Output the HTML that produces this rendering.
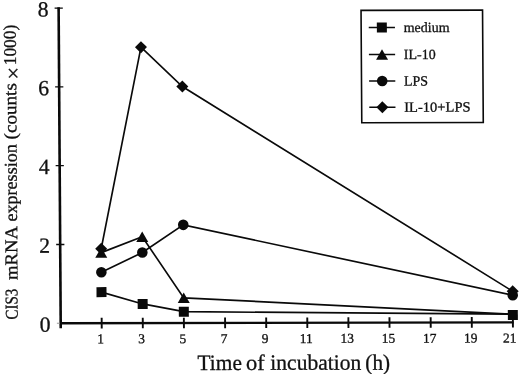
<!DOCTYPE html>
<html><head><meta charset="utf-8"><title>CIS3 mRNA expression</title>
<style>
html,body{margin:0;padding:0;background:#fff;}
svg{display:block;}
text{font-family:"Liberation Serif","DejaVu Serif",serif;fill:#111;stroke:#111;stroke-width:0.3px;}
</style></head><body>
<svg width="520" height="374" viewBox="0 0 520 374">
<rect width="520" height="374" fill="#fff"/>
<g transform="matrix(1 -0.002 0.0066 1 -2.134 0.121)" fill="#0a0a0a" stroke="none">
<g stroke="#0a0a0a" fill="none"><line x1="60.7" y1="7.2" x2="60.7" y2="328.3" stroke-width="2.6"/><line x1="60.7" y1="323.3" x2="513.6" y2="323.3" stroke-width="2.4"/></g>
<g stroke="#0a0a0a" stroke-width="1.3"><line x1="56.7" y1="244.5" x2="64.9" y2="244.5"/><line x1="56.7" y1="165.7" x2="64.9" y2="165.7"/><line x1="56.7" y1="86.9" x2="64.9" y2="86.9"/><line x1="56.7" y1="8.1" x2="64.9" y2="8.1"/></g>
<g stroke="#0a0a0a" stroke-width="1.9"><line x1="101.7" y1="317.9" x2="101.7" y2="328.5"/><line x1="142.8" y1="317.9" x2="142.8" y2="328.5"/><line x1="183.9" y1="317.9" x2="183.9" y2="328.5"/><line x1="225.1" y1="317.9" x2="225.1" y2="328.5"/><line x1="266.2" y1="317.9" x2="266.2" y2="328.5"/><line x1="307.3" y1="317.9" x2="307.3" y2="328.5"/><line x1="348.4" y1="317.9" x2="348.4" y2="328.5"/><line x1="389.5" y1="317.9" x2="389.5" y2="328.5"/><line x1="430.7" y1="317.9" x2="430.7" y2="328.5"/><line x1="471.8" y1="317.9" x2="471.8" y2="328.5"/><line x1="512.9" y1="317.9" x2="512.9" y2="328.5"/></g>
<line x1="56.9" y1="323.3" x2="59.7" y2="323.3" stroke="#999" stroke-width="1"/>
<polyline points="101.7,292.2 142.8,304.1 183.9,311.9 512.9,315.1" fill="none" stroke="#0a0a0a" stroke-width="1.65"/>
<polyline points="101.7,252.7 142.8,236.9 183.9,298.1 512.9,315.1" fill="none" stroke="#0a0a0a" stroke-width="1.65"/>
<polyline points="101.7,272.4 142.8,252.7 183.9,225.1 512.9,296.2" fill="none" stroke="#0a0a0a" stroke-width="1.65"/>
<polyline points="101.7,248.8 142.8,47.3 183.9,86.8 512.9,292.2" fill="none" stroke="#0a0a0a" stroke-width="1.65"/>
<rect x="96.7" y="287.2" width="10" height="10"/><rect x="137.8" y="299.1" width="10" height="10"/><rect x="178.9" y="306.9" width="10" height="10"/><rect x="507.9" y="310.9" width="10" height="10"/>
<polygon points="101.7,247.4 107.7,257.9 95.7,257.9"/><polygon points="142.8,231.6 148.8,242.1 136.8,242.1"/><polygon points="183.9,292.8 189.9,303.3 177.9,303.3"/>
<circle cx="101.7" cy="272.4" r="5.3"/><circle cx="142.8" cy="252.7" r="5.3"/><circle cx="183.9" cy="225.1" r="5.3"/><circle cx="512.9" cy="296.2" r="5.3"/>
<polygon points="101.7,242.8 107.7,248.8 101.7,254.8 95.7,248.8"/><polygon points="142.8,41.3 148.8,47.3 142.8,53.3 136.8,47.3"/><polygon points="183.9,80.8 189.9,86.8 183.9,92.8 177.9,86.8"/><polygon points="512.9,286.2 518.9,292.2 512.9,298.2 506.9,292.2"/>
<text x="50.5" y="331.6" font-size="21.7" text-anchor="end">0</text>
<text x="50.5" y="252.8" font-size="21.7" text-anchor="end">2</text>
<text x="50.5" y="174.0" font-size="21.7" text-anchor="end">4</text>
<text x="50.5" y="95.2" font-size="21.7" text-anchor="end">6</text>
<text x="50.5" y="16.4" font-size="21.7" text-anchor="end">8</text>
<text x="100.5" y="343.4" font-size="13.5" text-anchor="middle">1</text>
<text x="141.6" y="343.4" font-size="13.5" text-anchor="middle">3</text>
<text x="182.7" y="343.4" font-size="13.5" text-anchor="middle">5</text>
<text x="223.9" y="343.4" font-size="13.5" text-anchor="middle">7</text>
<text x="265.0" y="343.4" font-size="13.5" text-anchor="middle">9</text>
<text x="306.1" y="343.4" font-size="13.5" text-anchor="middle">11</text>
<text x="347.2" y="343.4" font-size="13.5" text-anchor="middle">13</text>
<text x="388.3" y="343.4" font-size="13.5" text-anchor="middle">15</text>
<text x="429.5" y="343.4" font-size="13.5" text-anchor="middle">17</text>
<text x="470.6" y="343.4" font-size="13.5" text-anchor="middle">19</text>
<text x="509.5" y="343.4" font-size="13.5" text-anchor="middle">21</text>
<text x="197.2" y="370.3" font-size="22" textLength="44.4" lengthAdjust="spacingAndGlyphs">Time</text>
<text x="245.6" y="370.3" font-size="22" textLength="18.8" lengthAdjust="spacingAndGlyphs">of</text>
<text x="270.0" y="370.3" font-size="22" textLength="91" lengthAdjust="spacingAndGlyphs">incubation</text>
<text x="365.0" y="370.3" font-size="22" textLength="24.8" lengthAdjust="spacingAndGlyphs">(h)</text>
<text transform="translate(17.7 319.4) rotate(-90)" font-size="18" textLength="30.8" lengthAdjust="spacingAndGlyphs">CIS3</text>
<text transform="translate(17.7 280) rotate(-90)" font-size="18" textLength="54" lengthAdjust="spacingAndGlyphs">mRNA</text>
<text transform="translate(17.7 221.5) rotate(-90)" font-size="18" textLength="77.4" lengthAdjust="spacingAndGlyphs">expression</text>
<text transform="translate(17.7 139.3) rotate(-90)" font-size="18" textLength="56.2" lengthAdjust="spacingAndGlyphs">(counts</text>
<text transform="translate(17.7 65.2) rotate(-90)" font-size="18" textLength="40.6" lengthAdjust="spacingAndGlyphs">1000)</text>
<text transform="translate(22.1 79.5) rotate(-90)" font-size="22">×</text>
<rect x="363.1" y="11" width="121.5" height="112.4" fill="#fff" stroke="#0a0a0a" stroke-width="1.6"/>
<line x1="370.7" y1="28.2" x2="396.9" y2="28.2" stroke="#0a0a0a" stroke-width="1.5"/>
<rect x="378.8" y="23.2" width="10" height="10"/>
<text x="405.6" y="32.8" font-size="14">medium</text>
<line x1="370.7" y1="55.2" x2="396.9" y2="55.2" stroke="#0a0a0a" stroke-width="1.5"/>
<polygon points="383.8,49.9 389.8,60.4 377.8,60.4"/>
<text x="405.6" y="59.8" font-size="14">IL-10</text>
<line x1="370.7" y1="81.6" x2="396.9" y2="81.6" stroke="#0a0a0a" stroke-width="1.5"/>
<circle cx="383.8" cy="81.6" r="5.3"/>
<text x="405.6" y="86.2" font-size="14">LPS</text>
<line x1="370.7" y1="107.8" x2="396.9" y2="107.8" stroke="#0a0a0a" stroke-width="1.5"/>
<polygon points="383.8,101.8 389.8,107.8 383.8,113.8 377.8,107.8"/>
<text x="405.6" y="112.4" font-size="14" textLength="66.4" lengthAdjust="spacingAndGlyphs">IL-10+LPS</text>
</g></svg></body></html>
